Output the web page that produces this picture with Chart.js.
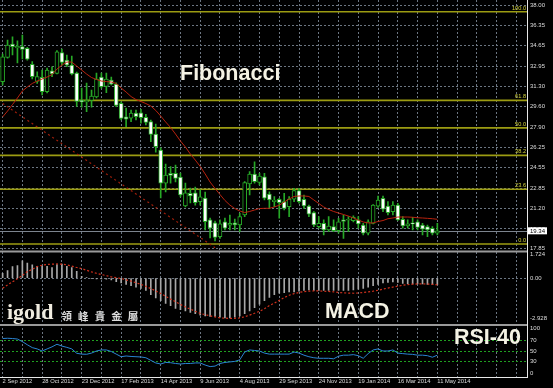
<!DOCTYPE html>
<html><head><meta charset="utf-8">
<script src="https://cdn.jsdelivr.net/npm/chart.js@4/dist/chart.umd.min.js"></script>
<style>html,body{margin:0;padding:0;background:#000;overflow:hidden}canvas{display:block;background:#000}</style>
</head><body>
<canvas id="c" width="553" height="388"></canvas>
<script>
// ---- data (weekly candles, 2 Sep 2012 .. 11 May 2014) ----
const dateLabels = ['2 Sep 2012','28 Oct 2012','23 Dec 2012','17 Feb 2013','14 Apr 2013','9 Jun 2013','4 Aug 2013','29 Sep 2013','24 Nov 2013','19 Jan 2014','16 Mar 2014','11 May 2014'];
const labelEvery = 8;
const gridEvery = 4;
const open  = [31.66,33.68,34.78,34.45,34.56,34.42,33.10,31.68,32.03,30.84,32.57,32.36,34.08,33.46,33.04,32.38,30.13,30.00,30.11,30.40,32.05,31.27,31.80,31.47,29.88,28.77,28.66,29.08,29.10,28.72,28.36,27.34,26.02,23.27,24.09,24.09,23.79,21.39,22.43,22.47,21.75,22.05,20.24,19.99,18.86,20.09,19.80,20.01,19.82,20.65,23.21,24.04,23.35,23.81,22.38,21.75,21.95,21.75,21.33,21.95,22.66,21.95,21.39,20.84,19.68,19.96,19.41,19.68,19.35,20.24,20.21,20.18,20.24,19.82,19.14,19.96,21.37,22.03,21.39,20.92,21.47,20.29,19.74,20.01,20.09,19.82,19.68,19.55,19.14];
const high  = [33.95,35.11,35.38,35.05,35.52,34.50,33.33,32.49,32.63,32.80,32.90,34.24,34.37,33.87,33.79,32.47,31.14,31.56,30.98,32.38,32.38,32.38,32.05,31.58,30.01,29.49,29.33,29.33,29.38,28.97,28.50,28.17,26.19,24.86,24.64,24.78,24.11,23.29,22.88,22.96,22.72,22.55,20.40,20.15,20.24,20.40,20.65,20.32,20.79,23.40,24.23,25.05,24.09,24.09,22.57,22.16,22.03,22.44,22.16,22.86,22.86,22.30,21.47,20.92,20.51,20.24,20.51,20.24,20.37,20.65,20.51,20.57,20.51,19.96,20.24,21.50,22.22,22.22,21.75,21.75,21.62,20.51,20.24,20.46,20.24,19.96,19.82,19.68,19.96];
const low   = [31.39,33.62,33.87,33.21,33.54,33.45,31.89,31.53,30.57,30.73,32.08,32.30,33.04,32.90,32.22,29.62,29.57,29.19,29.57,30.32,31.14,30.76,31.39,29.60,28.50,27.95,28.36,28.50,28.23,28.09,26.71,25.85,22.05,22.55,23.27,23.38,22.14,21.31,21.64,21.47,21.47,19.41,18.75,18.50,18.72,19.41,19.41,19.41,19.27,20.51,22.30,23.27,23.13,21.89,21.20,21.33,20.38,21.06,20.51,21.75,21.62,21.20,20.51,19.68,19.55,19.00,19.27,19.27,19.14,18.72,19.27,20.07,19.55,19.00,19.00,19.90,21.27,20.92,20.65,20.65,20.20,19.55,19.55,19.41,19.41,19.00,18.86,19.00,19.00];
const close = [33.73,34.70,34.56,34.61,34.34,33.52,32.09,32.09,30.84,32.63,32.30,34.14,33.27,33.04,32.30,30.03,29.99,30.11,30.48,31.89,31.25,31.89,31.47,29.70,28.64,28.56,29.08,28.77,28.69,28.31,27.31,26.29,23.27,23.95,23.91,23.68,22.30,22.47,22.22,21.66,22.14,20.09,19.55,18.79,19.91,19.55,19.96,19.82,20.51,23.32,24.04,23.40,23.87,22.03,21.89,21.89,21.66,21.20,21.97,22.66,21.75,21.39,20.71,19.82,19.96,19.41,19.74,19.35,20.09,20.11,20.29,20.46,19.91,19.14,20.09,21.47,21.89,21.12,20.84,21.47,20.24,19.74,19.91,19.91,19.63,19.47,19.41,19.14,19.34];
const movingAvg = [28.75,29.24,29.78,30.32,30.90,31.23,31.52,31.72,31.89,32.05,32.26,32.71,33.04,33.29,33.29,32.96,32.63,32.30,32.01,31.85,31.72,31.68,31.64,31.52,31.14,30.81,30.44,30.19,30.03,29.86,29.66,29.29,28.83,28.34,27.88,27.34,26.76,26.27,25.69,25.19,24.66,24.04,23.37,22.84,22.34,21.85,21.47,21.18,20.98,20.85,20.94,21.06,21.18,21.20,21.20,21.31,21.45,21.72,21.97,22.18,22.22,22.22,22.18,21.89,21.60,21.31,21.10,20.94,20.81,20.69,20.56,20.40,20.23,20.07,19.99,19.99,20.11,20.19,20.34,20.40,20.48,20.48,20.48,20.46,20.42,20.40,20.37,20.34,20.29];
const trendIdx   = [0, 43];
const trendPrice = [29.87, 17.95];
const fibNames  = ['100.0','61.8','50.0','38.2','23.6','0.0'];
const fibPrices = [37.45, 30.12, 27.85, 25.58, 22.78, 18.25];
const priceTicks = [38.00,36.35,34.65,32.95,31.30,29.60,27.90,26.25,24.55,22.85,21.20,19.50,17.85];
const macdMain = [0.35,0.55,0.85,0.93,1.27,1.10,0.98,0.86,0.86,0.86,0.78,1.00,1.03,0.86,0.78,0.50,0.14,0.05,-0.04,-0.05,-0.06,-0.08,-0.12,-0.25,-0.35,-0.45,-0.55,-0.65,-0.75,-0.90,-1.20,-1.45,-1.65,-1.85,-2.00,-2.20,-2.30,-2.40,-2.50,-2.60,-2.70,-2.75,-2.80,-2.80,-2.85,-2.90,-2.90,-2.85,-2.75,-2.60,-2.40,-2.15,-1.90,-1.65,-1.40,-1.20,-1.10,-1.05,-1.00,-1.00,-0.95,-0.90,-0.85,-0.90,-0.90,-0.90,-0.90,-0.90,-0.90,-0.90,-0.90,-0.85,-0.80,-0.75,-0.65,-0.55,-0.45,-0.35,-0.30,-0.28,-0.30,-0.38,-0.40,-0.42,-0.42,-0.42,-0.45,-0.45,-0.47];
const macdSignal = [-0.74,-0.49,-0.26,-0.04,0.20,0.48,0.65,0.85,0.95,1.00,1.03,1.04,1.03,0.97,0.88,0.78,0.70,0.58,0.46,0.36,0.27,0.18,0.10,0.04,-0.02,-0.12,-0.22,-0.33,-0.45,-0.60,-0.76,-0.93,-1.12,-1.32,-1.53,-1.72,-1.92,-2.10,-2.26,-2.42,-2.57,-2.67,-2.75,-2.83,-2.90,-2.92,-2.94,-2.93,-2.90,-2.82,-2.70,-2.56,-2.42,-2.23,-2.00,-1.82,-1.62,-1.42,-1.25,-1.13,-1.04,-0.98,-0.95,-0.93,-0.93,-0.95,-0.97,-1.00,-1.04,-1.07,-1.09,-1.10,-1.08,-1.04,-1.00,-0.95,-0.88,-0.80,-0.72,-0.65,-0.58,-0.52,-0.47,-0.44,-0.42,-0.42,-0.43,-0.45,-0.49];
const macdTicks = [1.724, 0, -2.928];
const macdTickText = ['1.724','0.00','-2.928'];
const rsi = [74,74.5,74,73,68,62,56.5,54,50,54,58,63,59.5,57,54,45.6,44,43.7,46,50,52,52,49,44,39,40.4,39.5,39,38.5,37,32,27,25,28,27.5,26,25,26,26,27,27,23,20,21,26,28,29,30,33,48,52,51,50,46,44,44,44,44,44,48,46,42,39,37,36,36,36,35,40,42,42,43,41,36,45,52,54,50,50,52,46,45,44,43.5,42,42,41,38,42];
const rsiTicks = [100, 70, 50, 30, 0];
const rsiLevels = [70, 50, 30];
const lastPrice = close[close.length - 1];

// ---- styling ----
const FONT = "'Liberation Sans', Arial, sans-serif";
const GRID = '#6c7682';
const GREEN = '#27a827';
const xy = arr => arr.map((v, i) => ({x: i, y: v}));
const fixY = w => (s) => { s.width = w; s.paddingTop = 0; s.paddingBottom = 0; s.paddingLeft = 0; s.paddingRight = 0; };

const overlay = {
  id: 'overlay',
  beforeDatasetsDraw(chart) {
    const {ctx, chartArea: a} = chart;
    const y = chart.scales.y;
    ctx.save();
    ctx.strokeStyle = '#9c9c12'; ctx.lineWidth = 1.6;
    ctx.fillStyle = '#d4d43c';
    ctx.font = '5.6px ' + FONT; ctx.textAlign = 'right'; ctx.textBaseline = 'alphabetic';
    fibPrices.forEach((p, k) => {
      const py = y.getPixelForValue(p);
      ctx.beginPath(); ctx.moveTo(a.left, py); ctx.lineTo(a.right, py); ctx.stroke();
      ctx.fillText(fibNames[k], a.right - 1, py - 2);
    });
    const pp = Math.round(y.getPixelForValue(lastPrice)) + 0.5;
    ctx.strokeStyle = '#7c848e'; ctx.lineWidth = 1;
    ctx.beginPath(); ctx.moveTo(a.left, pp); ctx.lineTo(a.right, pp); ctx.stroke();
    ctx.restore();
  },
  afterDraw(chart) {
    const {ctx, chartArea: a} = chart;
    const y = chart.scales.y, ym = chart.scales.yMacd;
    ctx.save();
    ctx.strokeStyle = '#9a9a9a'; ctx.lineWidth = 2;
    [y.bottom, ym.bottom].forEach(v => {
      ctx.beginPath(); ctx.moveTo(a.left, v); ctx.lineTo(a.right, v); ctx.stroke();
    });
    const pp = y.getPixelForValue(lastPrice);
    ctx.fillStyle = '#ffffff';
    ctx.fillRect(a.right + 1, pp - 3.5, 19, 7);
    ctx.fillStyle = '#000';
    ctx.font = '6px ' + FONT; ctx.textAlign = 'left'; ctx.textBaseline = 'middle';
    ctx.fillText(lastPrice.toFixed(2), a.right + 3, pp + 0.3);
    ctx.fillStyle = '#f4f2e4'; ctx.textBaseline = 'alphabetic';
    ctx.font = 'bold 21.5px ' + FONT;
    ctx.fillText('Fibonacci', 180, 79.5);
    ctx.fillText('MACD', 325, 317.7);
    ctx.fillText('RSI-40', 454, 344.3);
    ctx.fillStyle = '#f0ece0';
    ctx.font = "bold 22px 'Liberation Serif', 'Times New Roman', serif";
    ctx.fillText('igold', 7, 318.5);
    ctx.fillStyle = '#dcdcdc';
    ctx.font = "bold 10.5px 'Noto Sans CJK TC', sans-serif";
    ctx.textAlign = 'center';
    ['領','峰','貴','金','屬'].forEach((ch, k) => ctx.fillText(ch, 66.7 + k * 16.6, 320));
    ctx.restore();
  }
};

new Chart(document.getElementById('c'), {
  type: 'bar',
  data: {
    datasets: [
      { type: 'line', label: 'MA', data: xy(movingAvg), yAxisID: 'y', borderColor: '#b8220e', borderWidth: 1, pointRadius: 0, order: 0 },
      { type: 'line', label: 'trend', data: trendIdx.map((v, k) => ({x: v, y: trendPrice[k]})), yAxisID: 'y', borderColor: '#a01e0a', borderWidth: 1.2, borderDash: [2, 3], pointRadius: 0, order: 0 },
      { label: 'body', data: open.map((o, i) => ({x: i, y: [o, close[i]]})), yAxisID: 'y', grouped: false, barThickness: 4, borderWidth: 1, borderSkipped: false, borderColor: GREEN,
        backgroundColor: c => close[c.dataIndex] >= open[c.dataIndex] ? '#000000' : '#ffffff', order: 1 },
      { label: 'wick', data: low.map((l, i) => ({x: i, y: [l, high[i]]})), yAxisID: 'y', grouped: false, barThickness: 1, borderWidth: 0, backgroundColor: GREEN, order: 2 },
      { label: 'MACD', data: xy(macdMain), yAxisID: 'yMacd', grouped: false, barThickness: 1, borderWidth: 0, backgroundColor: '#a8a8a8', order: 3 },
      { type: 'line', label: 'Signal', data: xy(macdSignal), yAxisID: 'yMacd', borderColor: '#d0301c', borderWidth: 1.2, borderDash: [2, 2], pointRadius: 0, order: 0 },
      { type: 'line', label: 'RSI', data: xy(rsi), yAxisID: 'yRsi', borderColor: '#2a84d2', borderWidth: 1, pointRadius: 0, order: 0 }
    ]
  },
  options: {
    responsive: false, animation: false, devicePixelRatio: 1,
    layout: { padding: 0, autoPadding: false },
    plugins: { legend: { display: false }, tooltip: { enabled: false } },
    scales: {
      x: {
        type: 'linear', position: 'bottom', min: -0.53, max: 106.15, offset: false,
        afterBuildTicks: s => { const t = []; for (let v = 0; v <= s.max; v += gridEvery) t.push({value: v}); s.ticks = t; },
        afterFit: s => { s.height = 11; s.paddingLeft = 0; s.paddingRight = 0; s.paddingTop = 0; s.paddingBottom = 0; },
        grid: { color: GRID, drawTicks: false, lineWidth: 1, offset: false },
        border: { color: '#e8e8e8', width: 1, dash: [2, 2] },
        ticks: { autoSkip: false, maxRotation: 0, minRotation: 0, align: 'start', padding: 1, color: '#dedede', font: { family: FONT, size: 5.8 },
          callback: v => (v % labelEvery === 0 && dateLabels[v / labelEvery]) ? dateLabels[v / labelEvery] : '' }
      },
      y: {
        type: 'linear', position: 'right', stack: 'panes', stackWeight: 251.5, min: 17.63, max: 38.42,
        afterBuildTicks: s => { s.ticks = priceTicks.map(v => ({value: v})); },
        afterFit: fixY(26),
        grid: { color: GRID, drawTicks: false },
        border: { color: '#e8e8e8', width: 1, dash: [2, 2] },
        ticks: { autoSkip: false, padding: 3, color: '#dedede', font: { family: FONT, size: 6 }, callback: v => v.toFixed(2) }
      },
      yMacd: {
        type: 'linear', position: 'right', stack: 'panes', stackWeight: 73.5, min: -3.42, max: 1.95,
        afterBuildTicks: s => { s.ticks = macdTicks.map(v => ({value: v})); },
        afterFit: fixY(26),
        grid: { color: c => c.tick && c.tick.value === 0 ? GRID : 'rgba(0,0,0,0)', drawTicks: false },
        border: { color: '#e8e8e8', width: 1, dash: [2, 2] },
        ticks: { autoSkip: false, padding: 3, color: '#dedede', font: { family: FONT, size: 6 }, callback: (v, i) => macdTickText[i] }
      },
      yRsi: {
        type: 'linear', position: 'right', stack: 'panes', stackWeight: 52, min: 0, max: 100,
        afterBuildTicks: s => { s.ticks = rsiTicks.map(v => ({value: v})); },
        afterFit: fixY(26),
        grid: { color: c => c.tick && rsiLevels.includes(c.tick.value) ? '#1f9f1f' : 'rgba(0,0,0,0)', drawTicks: false },
        border: { color: '#e8e8e8', width: 1, dash: [2, 2] },
        ticks: { autoSkip: false, padding: 3, color: '#dedede', font: { family: FONT, size: 6 },
          callback: v => v === 100 ? ['', '100'] : (v === 0 ? ['0', ''] : String(v)) }
      }
    }
  },
  plugins: [overlay]
});
</script>
</body></html>
